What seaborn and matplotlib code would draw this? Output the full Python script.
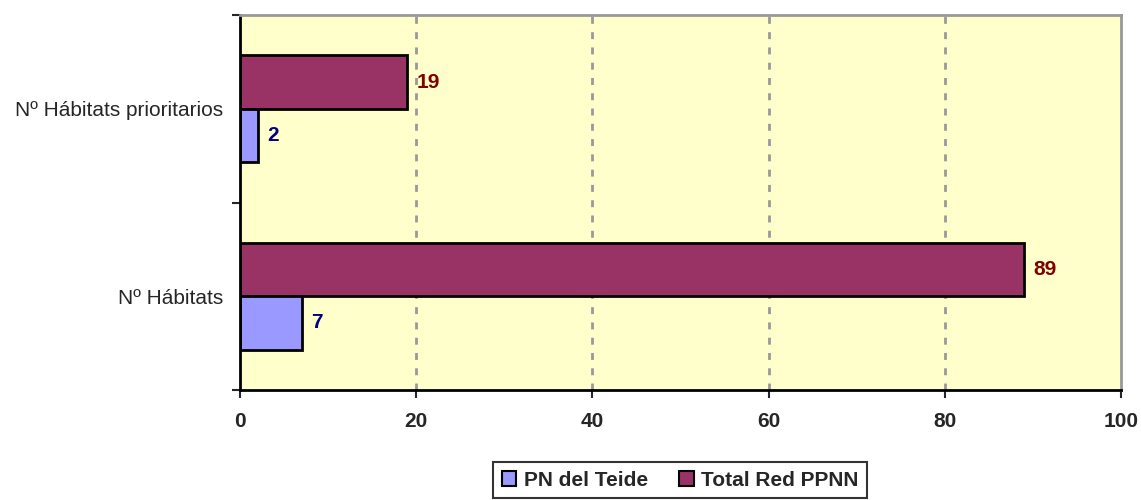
import pandas as pd
import matplotlib.pyplot as plt
import seaborn as sns
from matplotlib.patches import Patch

# chart data
categories = ['Nº Hábitats prioritarios', 'Nº Hábitats']
series = ['Total Red PPNN', 'PN del Teide']
total_red = [19, 89]
pn_teide = [2, 7]

df = pd.DataFrame({
    'categoria': categories * 2,
    'serie': [series[0]] * 2 + [series[1]] * 2,
    'valor': total_red + pn_teide,
})

colors = {'Total Red PPNN': '#993366', 'PN del Teide': '#9999FF'}
label_colors = {'Total Red PPNN': '#800000', 'PN del Teide': '#000080'}

sns.set_style('white')
plt.rcParams['font.family'] = ['Liberation Sans', 'DejaVu Sans']
fs = 15

fig = plt.figure(figsize=(11.41, 5.0), dpi=100)
ax = fig.add_axes([0.2103, 0.22, 0.7722, 0.75])
ax.set_facecolor('#FFFFCC')

sns.barplot(data=df, y='categoria', x='valor', hue='serie', order=categories,
            hue_order=series, palette=colors, orient='h', width=0.57,
            edgecolor='black', linewidth=2, saturation=1, ax=ax, legend=False)

# value labels
for cont, s in zip(ax.containers, series):
    ax.bar_label(cont, padding=7, fontsize=fs, fontweight='bold',
                 color=label_colors[s])

ax.set_xlim(0, 100)
ax.set_xticks(range(0, 101, 20))
ax.set_ylim(1.5, -0.5)
ax.set_yticks([-0.5, 0.5, 1.5], minor=False)
ax.set_yticklabels([])
ax.set_yticks([0, 1], minor=True)
ax.set_yticklabels(categories, minor=True, fontsize=fs)
ax.tick_params(axis='y', which='minor', length=0, pad=12)
ax.tick_params(axis='y', which='major', length=6, width=1.5, direction='out', left=True)
ax.tick_params(axis='x', length=6, width=1.5, direction='out', bottom=True, pad=10)
for lab in ax.get_xticklabels():
    lab.set_fontweight('bold')
    lab.set_fontsize(fs)
ax.set_xlabel('')
ax.set_ylabel('')

for x in range(20, 100, 20):
    ax.axvline(x, color='#999999', linestyle=(0, (2.5, 3)), linewidth=2, zorder=0.5)

ax.spines['left'].set_color('black')
ax.spines['left'].set_linewidth(2)
ax.spines['bottom'].set_color('black')
ax.spines['bottom'].set_linewidth(2)
ax.spines['top'].set_color('#999999')
ax.spines['top'].set_linewidth(2)
ax.spines['right'].set_color('#999999')
ax.spines['right'].set_linewidth(2)

handles = [Patch(facecolor=colors[s], edgecolor='black', linewidth=1.5) for s in series[::-1]]
leg = fig.legend(handles, series[::-1], loc='center', bbox_to_anchor=(0.596, 0.04),
                 ncol=2, frameon=True, fancybox=False, handlelength=0.7, handleheight=0.7,
                 handletextpad=0.35, columnspacing=1.5, borderpad=0.4,
                 prop={'weight': 'bold', 'size': fs})
leg.get_frame().set_edgecolor('black')
leg.get_frame().set_linewidth(1.5)

fig.savefig('out.png', dpi=100)
